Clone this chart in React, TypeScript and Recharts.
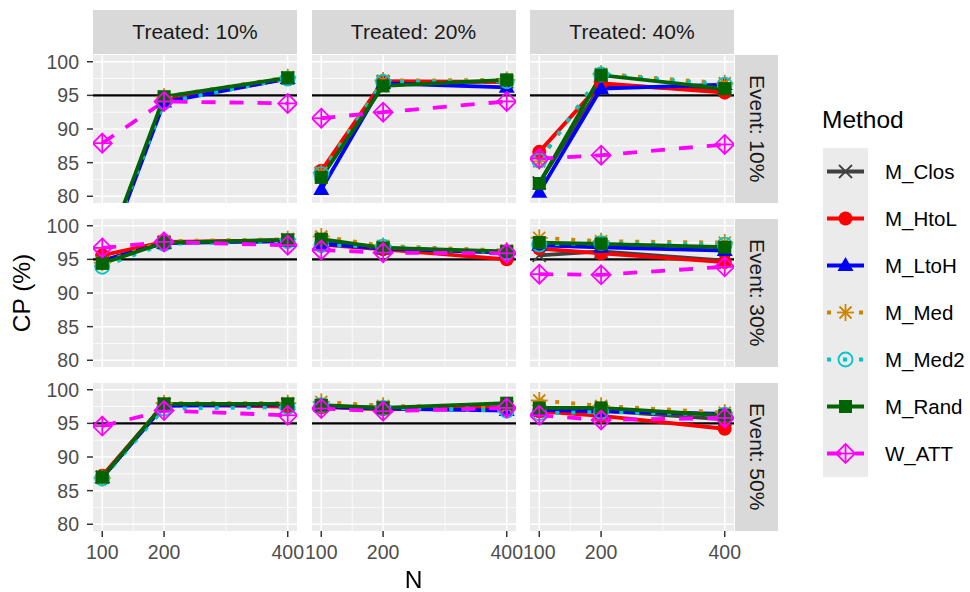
import React from 'react'
import { LineChart, Line, XAxis, YAxis, ReferenceLine, CartesianGrid } from 'recharts'

const nValues = [100, 200, 400]
const treatedLabels = ['Treated: 10%', 'Treated: 20%', 'Treated: 40%']
const eventLabels = ['Event: 10%', 'Event: 30%', 'Event: 50%']
const methods = ['M_Clos', 'M_HtoL', 'M_LtoH', 'M_Med', 'M_Med2', 'M_Rand', 'W_ATT']
const yTicks = [80, 85, 90, 95, 100]
const yMinor = [82.5, 87.5, 92.5, 97.5]
const xMinor = [150, 300]

// one row per panel: Event 10% (T10, T20, T40), Event 30% (...), Event 50% (...)
const M_Clos = [
  [70, 94.3, 97.6], [83.4, 97.0, 97.0], [82.0, 96.5, 95.8],
  [94.8, 97.5, 97.9], [97.8, 96.7, 96.0], [95.6, 96.2, 94.8],
  [87.0, 97.8, 97.8], [97.6, 97.3, 97.4], [96.8, 96.9, 95.6],
]
const M_HtoL = [
  [70, 94.2, 97.5], [83.8, 97.1, 97.0], [86.6, 96.8, 95.4],
  [95.6, 97.6, 97.8], [97.2, 96.5, 95.0], [96.6, 95.9, 94.6],
  [87.2, 97.8, 97.5], [97.4, 97.1, 97.3], [96.8, 96.1, 94.2],
]
const M_LtoH = [
  [69.5, 94.0, 97.5], [81.0, 96.8, 96.2], [80.6, 96.0, 96.6],
  [94.8, 97.4, 97.7], [97.3, 96.6, 96.0], [97.1, 96.8, 96.3],
  [86.9, 97.6, 97.8], [97.5, 97.2, 96.9], [97.0, 96.8, 96.4],
]
const M_Med = [
  [70, 94.8, 97.7], [83.5, 97.2, 97.3], [85.2, 98.2, 96.8],
  [94.5, 97.7, 98.0], [98.4, 97.0, 96.3], [98.2, 97.7, 97.5],
  [86.9, 98.0, 98.0], [98.2, 97.6, 97.4], [98.4, 97.6, 96.6],
]
const M_Med2 = [
  [70, 94.0, 97.5], [83.3, 97.0, 97.1], [85.3, 98.1, 96.6],
  [93.9, 97.3, 97.7], [97.1, 96.9, 96.0], [97.2, 97.4, 97.2],
  [86.8, 97.2, 97.4], [97.7, 97.3, 96.9], [96.5, 96.7, 96.3],
]
const M_Rand = [
  [70.2, 94.8, 97.6], [82.8, 96.4, 97.3], [81.9, 98.0, 96.0],
  [94.4, 97.5, 97.9], [98.0, 96.7, 96.2], [97.5, 97.3, 96.8],
  [87.0, 97.9, 97.9], [97.7, 97.3, 98.0], [97.3, 97.3, 96.2],
]
const W_ATT = [
  [87.9, 94.1, 93.8], [91.6, 92.5, 94.1], [85.6, 86.1, 87.7],
  [96.7, 97.6, 97.1], [96.4, 96.0, 95.9], [92.8, 92.7, 93.9],
  [94.6, 96.9, 96.2], [97.2, 96.8, 97.3], [96.2, 95.5, 95.8],
]

const series: Record<string, number[][]> = { M_Clos, M_HtoL, M_LtoH, M_Med, M_Med2, M_Rand, W_ATT }

const look: Record<string, { color: string; dash?: string }> = {
  M_Clos: { color: '#404040' },
  M_HtoL: { color: '#FF0000' },
  M_LtoH: { color: '#0000FF' },
  M_Med: { color: '#CD8500', dash: '4 12' },
  M_Med2: { color: '#00C5CD', dash: '4 12' },
  M_Rand: { color: '#006400' },
  W_ATT: { color: '#FF00FF', dash: '14 14' },
}

const FONT = '"Liberation Sans", Arial, sans-serif'
const PW = 204
const PH = 148
const colLeft = [93, 311.5, 530]
const rowTop = [55, 219, 383]

function Marker({ method, cx, cy }: { method: string; cx: number; cy: number }) {
  const c = look[method].color
  switch (method) {
    case 'M_Clos':
      return (
        <g stroke={c} strokeWidth={1.8}>
          <line x1={cx - 6.5} y1={cy - 6.5} x2={cx + 6.5} y2={cy + 6.5} />
          <line x1={cx - 6.5} y1={cy + 6.5} x2={cx + 6.5} y2={cy - 6.5} />
        </g>
      )
    case 'M_HtoL':
      return <circle cx={cx} cy={cy} r={7} fill={c} />
    case 'M_LtoH':
      return <polygon points={`${cx},${cy - 8.5} ${cx + 8},${cy + 5.5} ${cx - 8},${cy + 5.5}`} fill={c} />
    case 'M_Med':
      return (
        <g stroke={c} strokeWidth={1.8}>
          <line x1={cx - 8.5} y1={cy} x2={cx + 8.5} y2={cy} />
          <line x1={cx} y1={cy - 8.5} x2={cx} y2={cy + 8.5} />
          <line x1={cx - 6} y1={cy - 6} x2={cx + 6} y2={cy + 6} />
          <line x1={cx - 6} y1={cy + 6} x2={cx + 6} y2={cy - 6} />
        </g>
      )
    case 'M_Med2':
      return (
        <g>
          <circle cx={cx} cy={cy} r={7} fill="none" stroke={c} strokeWidth={1.8} />
          <circle cx={cx} cy={cy} r={1.6} fill={c} />
        </g>
      )
    case 'M_Rand':
      return <rect x={cx - 6.5} y={cy - 6.5} width={13} height={13} fill={c} />
    default:
      return (
        <g stroke={c} strokeWidth={1.8} fill="none">
          <polygon points={`${cx},${cy - 9.5} ${cx + 9.5},${cy} ${cx},${cy + 9.5} ${cx - 9.5},${cy}`} />
          <line x1={cx - 9.5} y1={cy} x2={cx + 9.5} y2={cy} />
          <line x1={cx} y1={cy - 9.5} x2={cx} y2={cy + 9.5} />
        </g>
      )
  }
}

function Panel({ row, col }: { row: number; col: number }) {
  const idx = row * 3 + col
  const data = nValues.map((n, i) => {
    const d: Record<string, number> = { N: n }
    methods.forEach((m) => (d[m] = series[m][idx][i]))
    return d
  })
  const showY = col === 0
  const showX = row === 2
  const yW = showY ? 60 : 0
  const xH = showX ? 60 : 0
  const tick = { fill: '#4D4D4D', fontSize: 19.5, fontFamily: FONT }
  return (
    <div style={{ position: 'absolute', left: colLeft[col] - yW, top: rowTop[row] }}>
      <LineChart
        width={PW + yW}
        height={PH + xH}
        data={data}
        margin={{ top: 0, right: 0, bottom: 0, left: 0 }}
        style={{ overflow: 'visible' }}
      >
        <CartesianGrid horizontal={false} vertical={false} fill="#EBEBEB" stroke="none" />
        <XAxis
          type="number"
          dataKey="N"
          domain={[85, 415]}
          allowDataOverflow
          ticks={nValues}
          hide={!showX}
          height={xH}
          axisLine={false}
          tickSize={6}
          tickMargin={8}
          tickLine={{ stroke: '#333333', strokeWidth: 1.5 }}
          tick={tick}
          interval={0}
        />
        <YAxis
          type="number"
          domain={[79, 101]}
          allowDataOverflow
          ticks={yTicks}
          hide={!showY}
          width={yW}
          axisLine={false}
          tickSize={6}
          tickMargin={8}
          tickLine={{ stroke: '#333333', strokeWidth: 1.5 }}
          tick={tick}
          interval={0}
        />
        {yMinor.map((v) => (
          <ReferenceLine key={'ym' + v} y={v} stroke="#FFFFFF" strokeWidth={0.8} />
        ))}
        {xMinor.map((v) => (
          <ReferenceLine key={'xm' + v} x={v} stroke="#FFFFFF" strokeWidth={0.8} />
        ))}
        {yTicks.map((v) => (
          <ReferenceLine key={'y' + v} y={v} stroke="#FFFFFF" strokeWidth={1.5} />
        ))}
        {nValues.map((v) => (
          <ReferenceLine key={'x' + v} x={v} stroke="#FFFFFF" strokeWidth={1.5} />
        ))}
        <ReferenceLine y={95} stroke="#000000" strokeWidth={2.2} />
        {methods.map((m) => (
          <Line
            key={m + '-line'}
            dataKey={m}
            stroke={look[m].color}
            strokeWidth={3.8}
            strokeDasharray={look[m].dash}
            dot={false}
            activeDot={false}
            isAnimationActive={false}
          />
        ))}
        {methods.map((m) => (
          <Line
            key={m + '-pts'}
            dataKey={m}
            stroke="none"
            activeDot={false}
            isAnimationActive={false}
            dot={(p: any) =>
              p.cx == null || p.cy == null ? (
                <g key={m + p.index} />
              ) : (
                <Marker key={m + p.index} method={m} cx={p.cx} cy={p.cy} />
              )
            }
          />
        ))}
      </LineChart>
    </div>
  )
}

function LegendKey({ method }: { method: string }) {
  const s = look[method]
  return (
    <svg width={45} height={47} style={{ display: 'block' }}>
      <line x1={4} y1={23.5} x2={41} y2={23.5} stroke={s.color} strokeWidth={3.8} strokeDasharray={s.dash} />
      <Marker method={method} cx={22.5} cy={23.5} />
    </svg>
  )
}

export default function App() {
  const stripBg = '#D9D9D9'
  return (
    <div style={{ position: 'fixed', left: 0, top: 0, width: 970, height: 592, background: '#FFFFFF', fontFamily: FONT }}>
      <style>{'.recharts-surface, .recharts-wrapper { overflow: visible !important; }'}</style>
      {treatedLabels.map((t, c) => (
        <div
          key={t}
          style={{
            position: 'absolute', left: colLeft[c], top: 10, width: PW, height: 44,
            background: stripBg, color: '#1A1A1A', fontSize: 21,
            display: 'flex', alignItems: 'center', justifyContent: 'center',
          }}
        >
          {t}
        </div>
      ))}
      {eventLabels.map((t, r) => (
        <div
          key={t}
          style={{
            position: 'absolute', left: 735, top: rowTop[r], width: 43, height: PH,
            background: stripBg, color: '#1A1A1A', fontSize: 21,
            display: 'flex', alignItems: 'center', justifyContent: 'center',
          }}
        >
          <span style={{ writingMode: 'vertical-rl' }}>{t}</span>
        </div>
      ))}
      {[0, 1, 2].map((r) => [0, 1, 2].map((c) => <Panel key={r + '-' + c} row={r} col={c} />))}
      <div
        style={{
          position: 'absolute', left: 0, top: 0, width: 44, height: 586, fontSize: 24.5, color: '#000',
          display: 'flex', alignItems: 'center', justifyContent: 'center',
        }}
      >
        <span style={{ transform: 'rotate(-90deg)', whiteSpace: 'nowrap' }}>CP (%)</span>
      </div>
      <div style={{ position: 'absolute', left: colLeft[0], width: 641, top: 566, fontSize: 24.5, textAlign: 'center', color: '#000' }}>
        N
      </div>
      <div style={{ position: 'absolute', left: 822, top: 106, fontSize: 24.5, color: '#000' }}>Method</div>
      <div style={{ position: 'absolute', left: 823, top: 148, width: 45, background: '#EBEBEB' }}>
        {methods.map((m) => (
          <LegendKey key={m} method={m} />
        ))}
      </div>
      {methods.map((m, i) => (
        <div
          key={m + '-lab'}
          style={{ position: 'absolute', left: 885, top: 148 + i * 47, height: 47, lineHeight: '47px', fontSize: 20.5, color: '#000' }}
        >
          {m}
        </div>
      ))}
    </div>
  )
}
